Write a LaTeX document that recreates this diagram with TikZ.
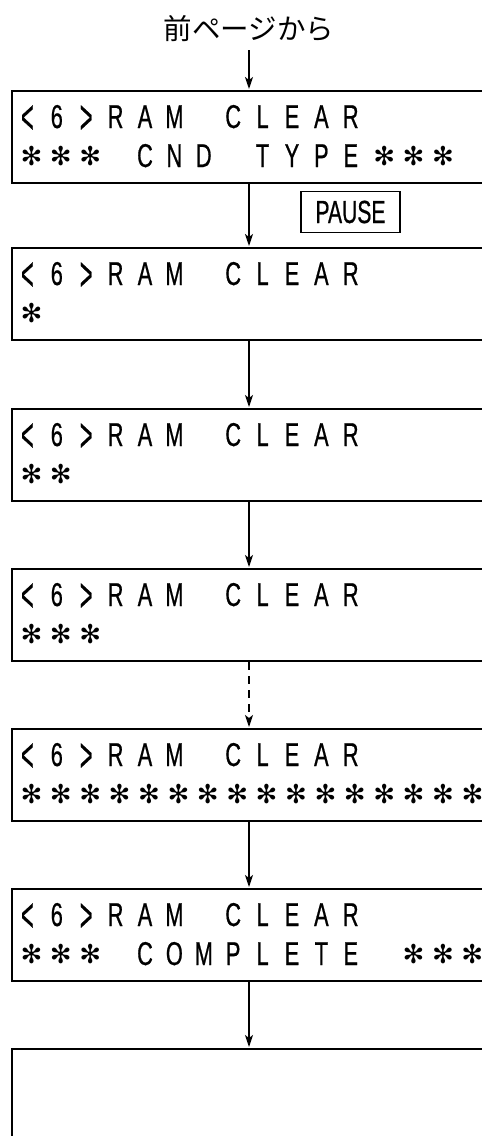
\documentclass[tikz,border=0pt]{standalone}
\usepackage{fontspec}
\usepackage{graphicx}
\setmainfont{Liberation Sans}[FakeStretch=0.66,FakeBold=0.6]
\newfontfamily\jpfont{Noto Sans CJK JP}
\newfontfamily\astfont{DejaVu Sans}
\usetikzlibrary{calc,arrows.meta}
\newcommand\lcdline[1]{\lcdloop#1\relax}
\def\lcdloop#1{\ifx#1\relax\else\lcdchar{#1}\expandafter\lcdloop\fi}
\newcommand\tallsym[1]{\raisebox{-0.16em}{\scalebox{1}[1.45]{#1}}}
\def\lcdchar#1{\ifx#1.\makebox[29.4pt]{}\else
  \ifx#1*\makebox[29.4pt]{\hspace{8pt}\raisebox{11pt}{\raisebox{-.5\height}{\astfont\fontsize{26}{30}\selectfont ✻}}}\else
  \ifx#1<\makebox[29.4pt]{\tallsym{<}}\else
  \ifx#1>\makebox[29.4pt]{\tallsym{>}}\else
  \makebox[29.4pt]{#1}\fi\fi\fi\fi}
\tikzset{
  lcdbox/.style={draw, line width=2.2pt, minimum width=470.5pt, minimum height=92pt, inner sep=0pt, anchor=north west},
  lcdtext/.style={inner sep=0pt, anchor=base west, font=\fontsize{33}{38}\selectfont},
  arr/.style={line width=1.6pt, -{Stealth[length=12pt,width=8pt,inset=3pt]}, shorten >=1pt},
}
\begin{document}
\begin{tikzpicture}[x=1pt,y=-1pt]
\useasboundingbox (0,0) rectangle (482,1136);
\clip (0,0) rectangle (482,1136);
\coordinate (ax) at (249,0);
\node[inner sep=0pt, font=\jpfont\fontsize{28.5}{30}\selectfont] (title) at (249,29) {前ページから};
\coordinate (s0) at (249,50);

\node[lcdbox] (b1) at (11,90) {};
\node[lcdbox] (b2) at (11,247) {};
\node[lcdbox] (b3) at (11,408) {};
\node[lcdbox] (b4) at (11,568) {};
\node[lcdbox] (b5) at (11,728) {};
\node[lcdbox] (b6) at (11,888) {};
\node[lcdbox, minimum height=110pt] (b7) at (11,1048) {};

\foreach \b/\l in {b1/{***.CND.TYPE***}, b2/{*}, b3/{**}, b4/{***}, b5/{****************}, b6/{***.COMPLETE.***}} {
  \node[lcdtext] (\b a) at ($(\b.north west)+(1.5,38)$) {\lcdline{<6>RAM.CLEAR}};
  \node[lcdtext] (\b b) at ($(\b.north west)+(1.5,77)$) {\expandafter\lcdline\expandafter{\l}};
}

\node[draw, line width=1.8pt, minimum width=99pt, minimum height=41pt, inner sep=0pt, font=\fontsize{32}{34}\selectfont] (pause) at (350.5,212) {PAUSE};

\draw[arr] (s0) -- (b1.north -| ax);
\draw[arr] (b1.south -| ax) -- (b2.north -| ax);
\draw[arr] (b2.south -| ax) -- (b3.north -| ax);
\draw[arr] (b3.south -| ax) -- (b4.north -| ax);
\draw[arr, dash pattern=on 8pt off 6pt] (b4.south -| ax) -- (b5.north -| ax);
\draw[arr] (b5.south -| ax) -- (b6.north -| ax);
\draw[arr] (b6.south -| ax) -- (b7.north -| ax);
\end{tikzpicture}
\end{document}
